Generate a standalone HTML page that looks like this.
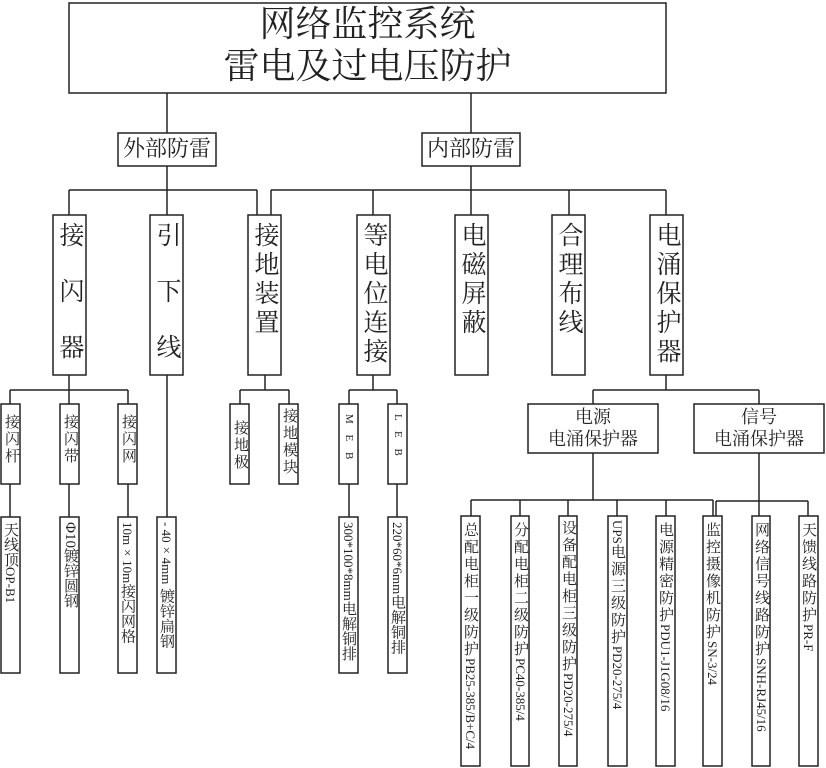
<!DOCTYPE html>
<html><head><meta charset="utf-8"><style>
body{margin:0;background:#fff;}
#c{position:relative;width:826px;height:768px;overflow:hidden;font-family:"Liberation Serif","Noto Serif CJK SC",serif;color:#222;}
.t{position:absolute;text-align:center;white-space:nowrap;line-height:1;}
.v{position:absolute;writing-mode:vertical-rl;text-orientation:mixed;white-space:nowrap;width:19px;line-height:19px;}
.w{width:33px;line-height:33px;}
.l{font-size:13px;}
</style></head><body><div id="c">
<svg width="826" height="768" style="position:absolute;left:0;top:0" fill="none" stroke="#222" stroke-width="1.5">
<rect x="69" y="3" width="597" height="90"/>
<line x1="167" y1="93" x2="167" y2="133"/><line x1="471" y1="93" x2="471" y2="133"/>
<rect x="118" y="133" width="98" height="33"/><rect x="422" y="133" width="98" height="33"/>
<line x1="167" y1="166" x2="167" y2="190"/><line x1="471" y1="166" x2="471" y2="215"/>
<line x1="69" y1="190" x2="257" y2="190"/><line x1="271" y1="190" x2="666" y2="190"/>
<line x1="69" y1="190" x2="69" y2="215"/><line x1="167" y1="190" x2="167" y2="215"/><line x1="257" y1="190" x2="257" y2="215"/><line x1="271" y1="190" x2="271" y2="215"/>
<line x1="373" y1="190" x2="373" y2="215"/><line x1="569" y1="190" x2="569" y2="215"/><line x1="666" y1="190" x2="666" y2="215"/>
<rect x="53" y="215" width="33" height="160"/><rect x="150" y="215" width="33" height="160"/><rect x="248" y="215" width="33" height="160"/>
<rect x="357" y="215" width="33" height="160"/><rect x="455" y="215" width="33" height="160"/><rect x="552" y="215" width="33" height="160"/><rect x="650" y="215" width="33" height="160"/>
<line x1="69" y1="375" x2="69" y2="390"/><line x1="10" y1="390" x2="128" y2="390"/>
<line x1="10" y1="390" x2="10" y2="404"/><line x1="69" y1="390" x2="69" y2="404"/><line x1="128" y1="390" x2="128" y2="404"/>
<rect x="1" y="404" width="19" height="80"/><rect x="60" y="404" width="19" height="80"/><rect x="118" y="404" width="19" height="80"/>
<line x1="10" y1="484" x2="10" y2="517"/><line x1="69" y1="484" x2="69" y2="517"/><line x1="128" y1="484" x2="128" y2="517"/>
<rect x="1" y="517" width="19" height="156"/><rect x="60" y="517" width="19" height="156"/><rect x="118" y="517" width="19" height="156"/>
<line x1="167" y1="375" x2="167" y2="517"/><rect x="157" y="517" width="19" height="156"/>
<line x1="265" y1="375" x2="265" y2="390"/><line x1="240" y1="390" x2="289" y2="390"/>
<line x1="240" y1="390" x2="240" y2="404"/><line x1="289" y1="390" x2="289" y2="404"/>
<rect x="230" y="404" width="19" height="80"/><rect x="279" y="404" width="19" height="80"/>
<line x1="373" y1="375" x2="373" y2="390"/><line x1="349" y1="390" x2="397" y2="390"/>
<line x1="349" y1="390" x2="349" y2="404"/><line x1="397" y1="390" x2="397" y2="404"/>
<rect x="339" y="404" width="19" height="80"/><rect x="388" y="404" width="19" height="80"/>
<line x1="349" y1="484" x2="349" y2="517"/><line x1="397" y1="484" x2="397" y2="517"/>
<rect x="339" y="517" width="19" height="156"/><rect x="388" y="517" width="19" height="156"/>
<line x1="666" y1="375" x2="666" y2="390"/><line x1="593" y1="390" x2="759" y2="390"/>
<line x1="593" y1="390" x2="593" y2="404"/><line x1="759" y1="390" x2="759" y2="404"/>
<rect x="528" y="404" width="130" height="49"/><rect x="694" y="404" width="130" height="49"/>
<line x1="593" y1="453" x2="593" y2="500"/><line x1="471" y1="500" x2="713" y2="500"/>
<line x1="759" y1="453" x2="759" y2="516"/><line x1="716" y1="501" x2="808" y2="501"/>
<line x1="471" y1="500" x2="471" y2="516"/><line x1="520" y1="500" x2="520" y2="516"/><line x1="568" y1="500" x2="568" y2="516"/><line x1="617" y1="500" x2="617" y2="516"/><line x1="666" y1="500" x2="666" y2="516"/><line x1="713" y1="500" x2="713" y2="516"/><line x1="716" y1="501" x2="716" y2="516"/><line x1="808" y1="501" x2="808" y2="516"/>
<rect x="461" y="516" width="19" height="250"/><rect x="511" y="516" width="18" height="250"/><rect x="559" y="516" width="18" height="250"/><rect x="608" y="516" width="19" height="250"/><rect x="656" y="516" width="19" height="250"/><rect x="703" y="516" width="19" height="250"/><rect x="752" y="516" width="18" height="250"/><rect x="799" y="516" width="19" height="250"/>
</svg>
<div class="t" style="left:69px;width:597px;top:6px;font-size:36px">网络监控系统</div>
<div class="t" style="left:69px;width:597px;top:48px;font-size:36px">雷电及过电压防护</div>
<div class="t" style="left:118px;width:98px;top:138px;font-size:22px">外部防雷</div>
<div class="t" style="left:422px;width:98px;top:138px;font-size:22px">内部防雷</div>
<div class="v w" style="left:53px;top:222px;font-size:25px;letter-spacing:31px">接闪器</div>
<div class="v w" style="left:150px;top:222px;font-size:25px;letter-spacing:31px">引下线</div>
<div class="v w" style="left:248px;top:222px;font-size:25px;letter-spacing:4px">接地装置</div>
<div class="v w" style="left:357px;top:222px;font-size:25px;letter-spacing:4px">等电位连接</div>
<div class="v w" style="left:455px;top:222px;font-size:25px;letter-spacing:4px">电磁屏蔽</div>
<div class="v w" style="left:552px;top:222px;font-size:25px;letter-spacing:4px">合理布线</div>
<div class="v w" style="left:650px;top:222px;font-size:25px;letter-spacing:4px">电涌保护器</div>
<div class="v" style="left:1px;top:414px;font-size:15px;letter-spacing:2px">接闪杆</div>
<div class="v" style="left:60px;top:414px;font-size:15px;letter-spacing:2px">接闪带</div>
<div class="v" style="left:118px;top:414px;font-size:15px;letter-spacing:2px">接闪网</div>
<div class="v" style="left:230px;top:420px;font-size:15px;letter-spacing:2px">接地极</div>
<div class="v" style="left:279px;top:408px;font-size:15px;letter-spacing:2px">接地模块</div>
<div class="v" style="left:339px;top:414px;font-size:11px;letter-spacing:4px">M E B</div>
<div class="v" style="left:388px;top:414px;font-size:11px;letter-spacing:4px">L E B</div>
<div class="v" style="left:1px;top:522px;font-size:15px">天线顶<span class="l">OP-B1</span></div>
<div class="v" style="left:60px;top:522px;font-size:15px">Φ10镀锌圆钢</div>
<div class="v" style="left:118px;top:522px;font-size:15px"><span class="l">10m×10m</span>接闪网格</div>
<div class="v" style="left:157px;top:522px;font-size:15px"><span class="l">- 40×4mm</span> 镀锌扁钢</div>
<div class="v" style="left:339px;top:522px;font-size:15px"><span class="l">300*100*8mm</span>电解铜排</div>
<div class="v" style="left:388px;top:522px;font-size:15px"><span class="l">220*60*6mm</span>电解铜排</div>
<div class="t" style="left:528px;width:130px;top:408px;font-size:18px">电源</div>
<div class="t" style="left:528px;width:130px;top:430px;font-size:18px">电涌保护器</div>
<div class="t" style="left:694px;width:130px;top:408px;font-size:18px">信号</div>
<div class="t" style="left:694px;width:130px;top:430px;font-size:18px">电涌保护器</div>
<div class="v" style="left:461px;top:522px;font-size:15px;letter-spacing:2px">总配电柜一级防护<span class="l" style="letter-spacing:0">PB25-385/B+C/4</span></div>
<div class="v" style="left:511px;top:522px;font-size:15px;letter-spacing:2px">分配电柜二级防护<span class="l" style="letter-spacing:0">PC40-385/4</span></div>
<div class="v" style="left:559px;top:520px;font-size:15px;letter-spacing:2px">设备配电柜三级防护<span class="l" style="letter-spacing:0">PD20-275/4</span></div>
<div class="v" style="left:608px;top:520px;font-size:15px;letter-spacing:2px"><span class="l" style="letter-spacing:0">UPS</span>电源三级防护<span class="l" style="letter-spacing:0">PD20-275/4</span></div>
<div class="v" style="left:656px;top:522px;font-size:15px;letter-spacing:2px">电源精密防护<span class="l" style="letter-spacing:0">PDU1-J1G08/16</span></div>
<div class="v" style="left:703px;top:522px;font-size:15px;letter-spacing:2px">监控摄像机防护<span class="l" style="letter-spacing:0">SN-3/24</span></div>
<div class="v" style="left:752px;top:522px;font-size:15px;letter-spacing:2px">网络信号线路防护<span class="l" style="letter-spacing:0">SNH-RJ45/16</span></div>
<div class="v" style="left:799px;top:522px;font-size:15px;letter-spacing:2px">天馈线路防护<span class="l" style="letter-spacing:0">PR-F</span></div>
</div></body></html>
